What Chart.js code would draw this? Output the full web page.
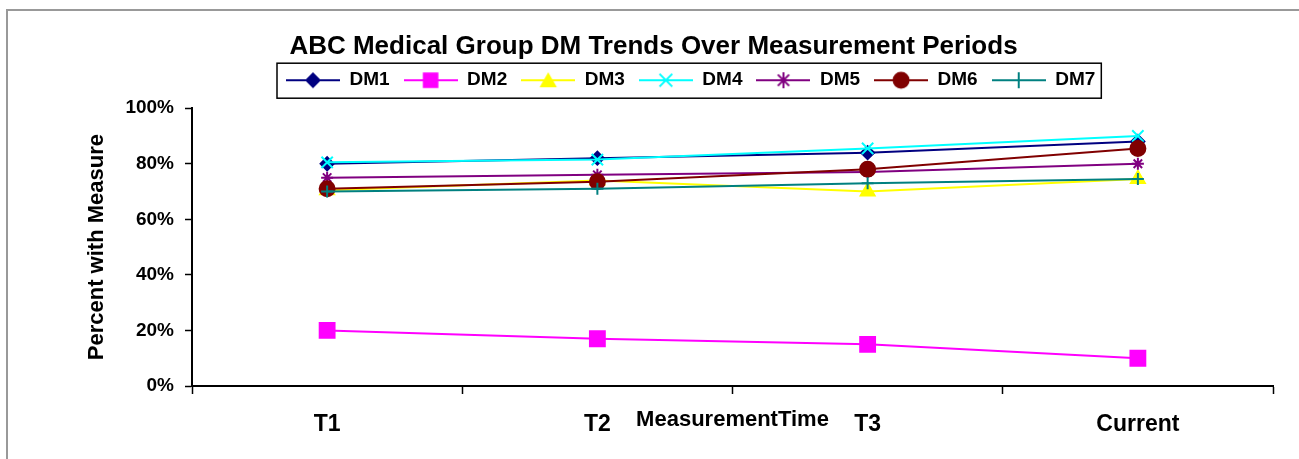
<!DOCTYPE html>
<html>
<head>
<meta charset="utf-8">
<title>ABC Medical Group DM Trends</title>
<script src="https://cdn.jsdelivr.net/npm/chart.js@4.4.1/dist/chart.umd.min.js"></script>
<style>
  html, body { margin: 0; padding: 0; background: #fff; }
  canvas { display: block; }
</style>
</head>
<body>
<canvas id="trendChart" width="1299" height="459"></canvas>
<script>
// values (percent)
const periods = ['T1', 'T2', 'T3', 'Current'];
const seriesNames = ['DM1', 'DM2', 'DM3', 'DM4', 'DM5', 'DM6', 'DM7'];
const dm1 = [80, 82, 84, 88];
const dm2 = [20, 17, 15, 10];
const dm3 = [70.5, 74, 70, 74.5];
const dm4 = [80.5, 81.5, 85.5, 90];
const dm5 = [75, 76, 77, 80];
const dm6 = [71, 73.5, 78, 85.5];
const dm7 = [70, 71, 73, 74.5];
const yTicks = [0, 20, 40, 60, 80, 100];

const seriesValues = [dm1, dm2, dm3, dm4, dm5, dm6, dm7];
const colors = ['#000080', '#FF00FF', '#FFFF00', '#00FFFF', '#800080', '#800000', '#008080'];
const markers = ['rectRot', 'rect', 'triangle', 'crossRot', 'star', 'circle', 'cross'];
const markerSizes = [6.5, 10.5, 8, 8, 6, 7.5, 6];
const legendMarkerSizes = [8, 11, 10, 9, 8, 8.5, 8];

// small picture for the legend: a line segment with the marker in the middle
function makeLegendIcon(color, marker, r) {
    const c = document.createElement('canvas');
    c.width = 54;
    c.height = 22;
    const ctx = c.getContext('2d');
    ctx.strokeStyle = color;
    ctx.fillStyle = color;
    ctx.lineWidth = 2;
    ctx.beginPath();
    ctx.moveTo(0, 11);
    ctx.lineTo(54, 11);
    ctx.stroke();
    const x = 27, y = 11;
    const d = r * Math.SQRT1_2;
    ctx.beginPath();
    switch (marker) {
        case 'rectRot':
            ctx.moveTo(x, y - r); ctx.lineTo(x + r, y); ctx.lineTo(x, y + r); ctx.lineTo(x - r, y);
            ctx.closePath(); ctx.fill();
            break;
        case 'rect':
            ctx.fillRect(x - d, y - d, 2 * d, 2 * d);
            break;
        case 'triangle':
            ctx.moveTo(x, y - r * 0.8); ctx.lineTo(x + r * 0.866, y + r * 0.7); ctx.lineTo(x - r * 0.866, y + r * 0.7);
            ctx.closePath(); ctx.fill();
            break;
        case 'circle':
            ctx.arc(x, y, r, 0, Math.PI * 2); ctx.fill();
            break;
        case 'crossRot':
            ctx.moveTo(x - d, y - d); ctx.lineTo(x + d, y + d);
            ctx.moveTo(x + d, y - d); ctx.lineTo(x - d, y + d);
            ctx.stroke();
            break;
        case 'star':
            ctx.moveTo(x - d, y - d); ctx.lineTo(x + d, y + d);
            ctx.moveTo(x + d, y - d); ctx.lineTo(x - d, y + d);
            ctx.moveTo(x, y - r); ctx.lineTo(x, y + r);
            ctx.stroke();
            break;
        case 'cross':
            ctx.moveTo(x, y - r); ctx.lineTo(x, y + r);
            ctx.moveTo(x - r, y); ctx.lineTo(x + r, y);
            ctx.stroke();
            break;
    }
    return c;
}

document.addEventListener('DOMContentLoaded', function() {
    const ctx = document.getElementById('trendChart').getContext('2d');
    const legendIcons = seriesNames.map((name, i) => makeLegendIcon(colors[i], markers[i], legendMarkerSizes[i]));

    Chart.defaults.font.family = '"Liberation Sans", Arial, sans-serif';
    Chart.defaults.font.weight = 'bold';
    Chart.defaults.color = '#000';

    const datasets = seriesNames.map((name, i) => ({
        label: name,
        data: seriesValues[i],
        borderColor: colors[i],
        backgroundColor: colors[i],
        borderWidth: 2,
        pointStyle: markers[i],
        pointRadius: markerSizes[i],
        pointBorderWidth: 2,
        pointBorderColor: colors[i],
        pointBackgroundColor: colors[i],
        tension: 0,
        fill: false,
        order: seriesNames.length - i   // later series painted on top, like the original
    }));

    // gray frame on the left and top edge
    const framePlugin = {
        id: 'frame',
        beforeDraw(chart) {
            const c = chart.ctx;
            c.save();
            c.strokeStyle = '#999';
            c.lineWidth = 2;
            c.beginPath();
            c.moveTo(7, chart.height);
            c.lineTo(7, 10);
            c.lineTo(chart.width, 10);
            c.stroke();
            c.restore();
        }
    };

    // move the title and legend row to where they sit in the original, box the legend
    const legendBoxPlugin = {
        id: 'legendBox',
        afterUpdate(chart) {
            const title = chart.titleBlock;
            const tdx = (chart.width + 8) / 2 - (title.left + title.right) / 2;
            title.left += tdx;
            title.right += tdx;

            const legend = chart.legend;
            const dx = 272 - legend.left;
            const dy = -8.5;
            legend.left += dx;
            legend.right += dx;
            legend.top += dy;
            legend.bottom += dy;
            legend.legendHitBoxes.forEach(h => { h.left += dx; h.top += dy; });
        },
        afterDraw(chart) {
            const legend = chart.legend;
            const pad = legend.options.labels.padding;
            const fontSize = legend.options.labels.font.size;
            const startX = legend.left + pad;
            const endX = startX + legend.lineWidths[0] - pad;
            const cy = legend.top + pad + fontSize / 2;
            const c = chart.ctx;
            c.save();
            c.strokeStyle = '#000';
            c.lineWidth = 1.5;
            c.strokeRect(startX - 9, cy - 17, endX - startX + 15, 35);
            c.restore();
        }
    };

    new Chart(ctx, {
        type: 'line',
        data: {
            labels: periods,
            datasets: datasets
        },
        options: {
            responsive: false,
            animation: false,
            events: [],
            layout: {
                padding: { left: 0, right: 26, top: 0, bottom: 26 }
            },
            plugins: {
                title: {
                    display: true,
                    text: 'ABC Medical Group DM Trends Over Measurement Periods',
                    font: { size: 26, weight: 'bold' },
                    color: '#000',
                    padding: { top: 31, bottom: 3 }
                },
                legend: {
                    display: true,
                    position: 'top',
                    align: 'start',
                    labels: {
                        usePointStyle: true,
                        pointStyleWidth: 54,
                        padding: 14,
                        color: '#000',
                        font: { size: 19, weight: 'bold' },
                        sort: (a, b) => a.datasetIndex - b.datasetIndex,
                        generateLabels(chart) {
                            const items = Chart.defaults.plugins.legend.labels.generateLabels(chart);
                            items.forEach(item => { item.pointStyle = legendIcons[item.datasetIndex]; });
                            return items;
                        }
                    }
                },
                tooltip: { enabled: false }
            },
            scales: {
                x: {
                    offset: true,
                    grid: {
                        offset: true,
                        drawOnChartArea: false,
                        drawTicks: true,
                        tickLength: 8,
                        tickColor: '#000',
                        tickWidth: 1.5
                    },
                    border: { color: '#000', width: 2 },
                    ticks: {
                        color: '#000',
                        padding: 17,
                        maxRotation: 0,
                        font: { size: 23, weight: 'bold' }
                    },
                    title: {
                        display: true,
                        text: 'MeasurementTime',
                        color: '#000',
                        font: { size: 22, weight: 'bold' },
                        padding: { top: 0, bottom: 0 }
                    },
                    afterFit(scale) { scale.height = 47; }
                },
                y: {
                    min: 0,
                    max: 100,
                    grid: {
                        drawOnChartArea: false,
                        drawTicks: true,
                        tickLength: 7,
                        tickColor: '#000',
                        tickWidth: 1.5
                    },
                    border: { color: '#000', width: 2 },
                    afterBuildTicks(scale) {
                        scale.ticks = yTicks.map(v => ({ value: v }));
                    },
                    ticks: {
                        color: '#000',
                        padding: 11,
                        font: { size: 19, weight: 'bold' },
                        callback: value => value + '%'
                    },
                    title: {
                        display: true,
                        text: 'Percent with Measure',
                        color: '#000',
                        font: { size: 22, weight: 'bold' },
                        padding: { top: 84, bottom: 0 }
                    },
                    afterFit(scale) { scale.width = 192; }
                }
            }
        },
        plugins: [framePlugin, legendBoxPlugin]
    });
});
</script>
</body>
</html>
